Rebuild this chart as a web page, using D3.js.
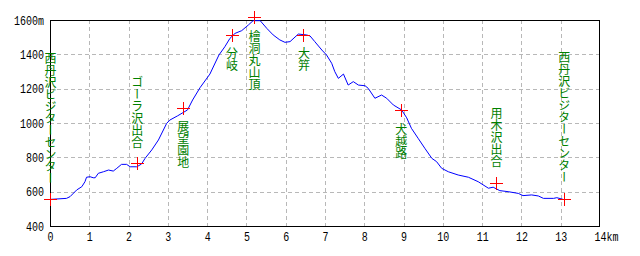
<!DOCTYPE html>
<html>
<head>
<meta charset="utf-8">
<script src="https://cdn.jsdelivr.net/npm/d3@7"></script>
<style>
  body { margin: 0; background: #fff; }
  svg { display: block; }
</style>
</head>
<body>
<div id="chart"></div>
<script>
// profile: distance (km) and elevation (m)
const distKm = [0, 0.42, 0.51, 0.68, 0.81, 0.89, 0.93, 1.02, 1.10, 1.15, 1.23, 1.36, 1.49, 1.61, 1.70, 1.82, 1.95, 2.04, 2.21, 2.33,
  2.42, 2.59, 2.76, 2.97, 3.05, 3.25, 3.50, 3.63, 3.82, 4.07, 4.30, 4.45, 4.58, 4.71, 4.88, 5.05, 5.17, 5.35, 5.52, 5.68,
  5.85, 5.98, 6.11, 6.32, 6.53, 6.62, 6.74, 6.92, 7.04, 7.17, 7.25, 7.34, 7.47, 7.59, 7.72, 7.85, 8.02, 8.10, 8.27, 8.44,
  8.57, 8.74, 8.95, 9.08, 9.20, 9.37, 9.54, 9.72, 9.84, 9.97, 10.14, 10.39, 10.65, 10.90, 11.16, 11.28, 11.45, 11.66, 11.92, 12.04,
  12.26, 12.43, 12.56, 12.82, 12.90, 13.06];
const elevM = [555, 561, 571, 610, 629, 658, 684, 687, 681, 681, 707, 716, 726, 720, 736, 759, 759, 745, 745, 761,
  794, 843, 901, 998, 1017, 1042, 1076, 1134, 1206, 1285, 1396, 1444, 1493, 1522, 1538, 1571, 1596, 1596, 1551, 1513,
  1484, 1470, 1474, 1518, 1513, 1507, 1474, 1425, 1396, 1348, 1299, 1260, 1285, 1221, 1241, 1221, 1217, 1202, 1144, 1163,
  1144, 1105, 1076, 1030, 969, 911, 853, 794, 775, 736, 716, 697, 684, 658, 620, 626, 606, 600, 590, 577,
  581, 575, 561, 561, 565, 555];

// waypoints
const pointNames = ["西丹沢ビジターセンター", "ゴーラ沢出合", "展望園地", "分岐", "檜洞丸山頂", "大笄", "犬越路", "用木沢出合", "西丹沢ビジターセンター"];
const pointKm = [0, 2.21, 3.38, 4.62, 5.19, 6.45, 8.93, 11.35, 13.08];
const pointElev = [555, 765, 1090, 1513, 1615, 1513, 1076, 652, 560];
const labelSide = ["above", "above", "below", "below", "below", "below", "below", "above", "above"];

// axis ticks
const xTicks = d3.range(0, 15);
const xTickText = xTicks.map(d => d === 14 ? "14km" : String(d));
const yTicks = [400, 600, 800, 1000, 1200, 1400, 1600];
const yTickText = ["400", "600", "800", "1000", "1200", "1400", "1600m"];

const width = 640, height = 256;
const margin = {top: 20, right: 40, bottom: 30, left: 50};
const plotW = width - margin.left - margin.right;
const plotH = height - margin.top - margin.bottom;

const svg = d3.select("#chart").append("svg")
  .attr("width", width)
  .attr("height", height);

const g = svg.append("g")
  .attr("transform", "translate(" + margin.left + "," + margin.top + ")");

const x = d3.scaleLinear().domain([0, 14]).range([0, plotW]);
const y = d3.scaleLinear().domain([400, 1600]).range([plotH, 0]);

// grid
g.append("g")
  .selectAll("line")
  .data(xTicks.slice(1, -1))
  .enter().append("line")
  .attr("x1", d => Math.round(x(d)) + 0.5)
  .attr("x2", d => Math.round(x(d)) + 0.5)
  .attr("y1", 0)
  .attr("y2", plotH)
  .attr("stroke", "#b8b8b8")
  .attr("stroke-dasharray", "4,3")
  .attr("shape-rendering", "crispEdges");

g.append("g")
  .selectAll("line")
  .data(yTicks.slice(1, -1))
  .enter().append("line")
  .attr("x1", 0)
  .attr("x2", plotW)
  .attr("y1", d => Math.round(y(d)) + 0.5)
  .attr("y2", d => Math.round(y(d)) + 0.5)
  .attr("stroke", "#b8b8b8")
  .attr("stroke-dasharray", "4,3")
  .attr("shape-rendering", "crispEdges");

// axes (labels only)
const tickFont = "'Liberation Mono', 'DejaVu Sans Mono', monospace";

const xAxis = g.append("g")
  .attr("transform", "translate(0," + plotH + ")")
  .call(d3.axisBottom(x).tickValues(xTicks).tickSize(0).tickPadding(6)
    .tickFormat((d, i) => xTickText[i]));
xAxis.select(".domain").remove();
xAxis.selectAll("text")
  .attr("font-family", tickFont)
  .attr("font-size", 13)
  .attr("fill", "#000")
  .attr("textLength", function() { return this.textContent.length * 6; })
  .attr("lengthAdjust", "spacingAndGlyphs")
  .filter(d => d === 14)
  .attr("text-anchor", "start")
  .attr("x", -6);

const yAxis = g.append("g")
  .call(d3.axisLeft(y).tickValues(yTicks).tickSize(0).tickPadding(6)
    .tickFormat((d, i) => yTickText[i]));
yAxis.select(".domain").remove();
yAxis.selectAll("text")
  .attr("font-family", tickFont)
  .attr("font-size", 13)
  .attr("fill", "#000")
  .attr("textLength", function() { return this.textContent.length * 6; })
  .attr("lengthAdjust", "spacingAndGlyphs");

// frame
g.append("rect")
  .attr("x", 0.5)
  .attr("y", 0.5)
  .attr("width", plotW - 1)
  .attr("height", plotH)
  .attr("fill", "none")
  .attr("stroke", "#000")
  .attr("shape-rendering", "crispEdges");

// profile line
const profile = distKm.map((d, i) => [d, elevM[i]]);
g.append("path")
  .datum(profile)
  .attr("fill", "none")
  .attr("stroke", "#0000ff")
  .attr("stroke-width", 1)
  .attr("d", d3.line().x(d => x(d[0])).y(d => y(d[1])));

// waypoint crosses
const points = pointNames.map((name, i) => ({name: name, km: pointKm[i], elev: pointElev[i], side: labelSide[i]}));

const cross = g.append("g").selectAll("g")
  .data(points)
  .enter().append("g")
  .attr("transform", d => "translate(" + Math.round(x(d.km)) + "," + Math.round(y(d.elev)) + ")");

cross.append("line")
  .attr("x1", -6).attr("x2", 7).attr("y1", 0.5).attr("y2", 0.5)
  .attr("stroke", "#ff0000").attr("shape-rendering", "crispEdges");
cross.append("line")
  .attr("x1", 0.5).attr("x2", 0.5).attr("y1", -6).attr("y2", 7)
  .attr("stroke", "#ff0000").attr("shape-rendering", "crispEdges");

// vertical labels
g.append("g").selectAll("text")
  .data(points)
  .enter().append("text")
  .attr("x", d => x(d.km) + 0.5)
  .attr("y", d => d.side === "above" ? y(d.elev) - 15 : y(d.elev) + 13)
  .attr("writing-mode", "vertical-rl")
  .attr("text-anchor", d => d.side === "above" ? "end" : "start")
  .attr("font-family", "'Noto Sans CJK JP', sans-serif")
  .attr("font-size", 12)
  .attr("fill", "#008000")
  .text(d => d.name);
</script>
</body>
</html>
